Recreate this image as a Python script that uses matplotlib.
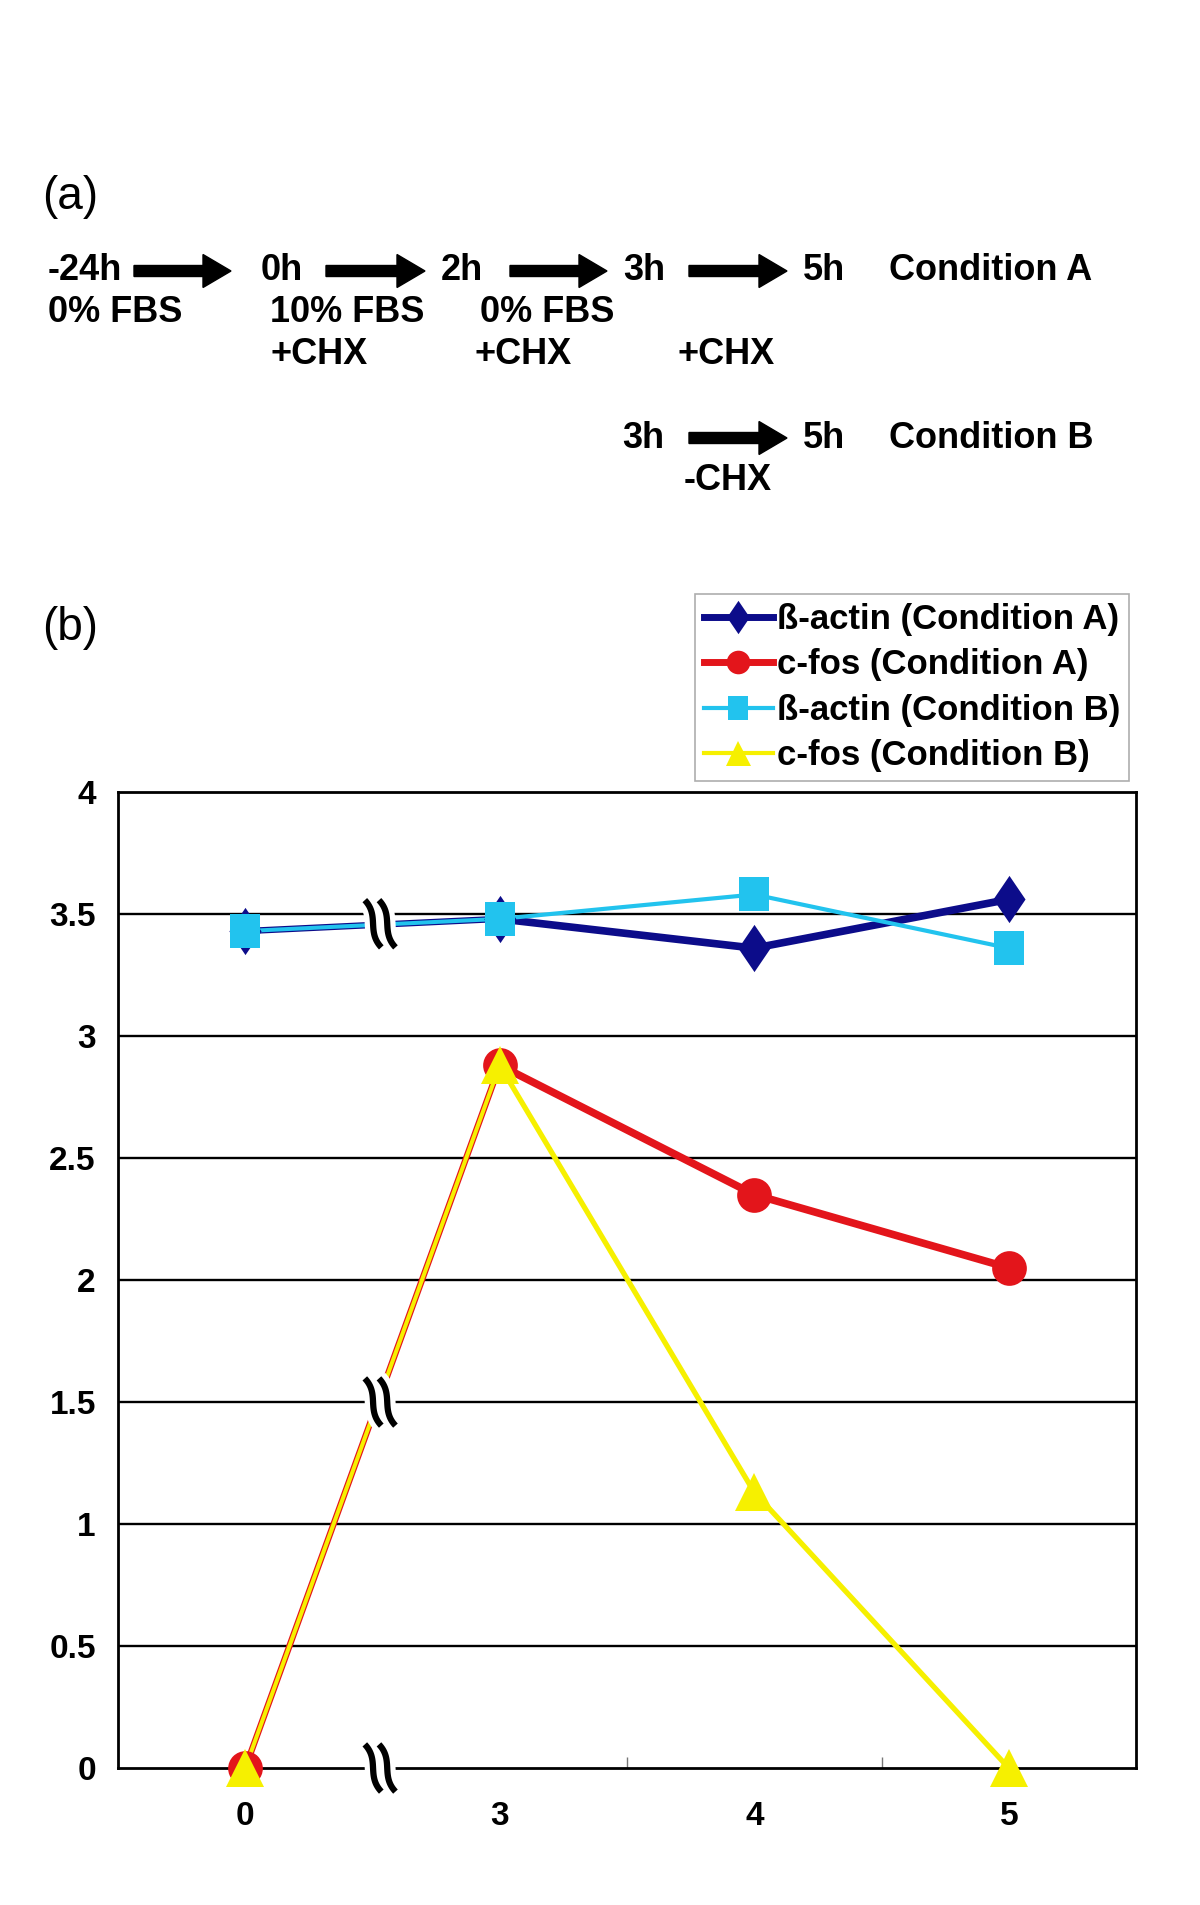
import numpy as np
import matplotlib
matplotlib.use("Agg")
import matplotlib.pyplot as plt
from matplotlib.path import Path
from matplotlib.lines import Line2D
from matplotlib.patches import FancyArrow
import matplotlib.patheffects as pe

# ---------------- data ----------------
categories = ["0", "3", "4", "5"]
actin_A = [3.43, 3.48, 3.36, 3.56]
fos_A = [0.0, 2.88, 2.35, 2.05]
actin_B = [3.43, 3.48, 3.58, 3.36]
fos_B = [0.0, 2.88, 1.13, 0.0]
labels = ["ß-actin (Condition A)", "c-fos (Condition A)",
          "ß-actin (Condition B)", "c-fos (Condition B)"]
yticks = [0, 0.5, 1, 1.5, 2, 2.5, 3, 3.5, 4]
ytick_labels = ["0", "0.5", "1", "1.5", "2", "2.5", "3", "3.5", "4"]
break_x = 0.53
break_y = [3.46, 1.5, 0.0]

# panel (a) protocol text: (text, x_px, y_px)
scheme_texts = [
    ("-24h", 48, 271), ("0h", 261, 271), ("2h", 441, 271), ("3h", 623, 271),
    ("5h", 803, 271), ("Condition A", 889, 271),
    ("0% FBS", 48, 313), ("10% FBS", 270, 313), ("0% FBS", 480, 313),
    ("+CHX", 270, 355), ("+CHX", 474, 355), ("+CHX", 678, 355),
    ("3h", 622, 438), ("5h", 803, 438), ("Condition B", 889, 438),
    ("-CHX", 684, 480),
]
scheme_arrows = [(134, 231, 271), (326, 425, 271), (510, 607, 271),
                 (689, 787, 271), (689, 787, 438)]

navy = "#0c0c8a"
red = "#e3151b"
cyan = "#22c3ee"
yellow = "#f6f000"

W, H = 1200, 1905
fig = plt.figure(figsize=(W / 100, H / 100), dpi=100)
fig.patch.set_facecolor("white")

bold_font = ["Liberation Sans", "DejaVu Sans"]
reg = ["Liberation Sans", "DejaVu Sans"]

def fx(px):
    return px / W

def fy(py):
    return 1 - py / H

# ---------------- panel (a) ----------------
fig.text(fx(42), fy(197), "(a)", family=reg, fontsize=33, va="center", ha="left")
for t, x, y in scheme_texts:
    fig.text(fx(x), fy(y), t, family=bold_font, fontweight="bold",
             fontsize=26, va="center", ha="left")
for x0, x1, y in scheme_arrows:
    fig.add_artist(FancyArrow(x0 / 100, (H - y) / 100, (x1 - x0) / 100, 0,
                              width=0.11, head_width=0.33, head_length=0.28,
                              length_includes_head=True, color="black",
                              transform=fig.dpi_scale_trans))

fig.text(fx(42), fy(628), "(b)", family=reg, fontsize=33, va="center", ha="left")

# ---------------- panel (b) ----------------
ax = fig.add_axes([fx(118), fy(1768), (1136 - 118) / W, (1768 - 792) / H])
xpos = np.arange(len(categories))
ax.set_xlim(-0.5, len(categories) - 0.5)
ax.set_ylim(0, 4)

for y in yticks[1:-1]:
    ax.axhline(y, color="black", lw=1.7, zorder=1)

diamond = Path([(0, 1), (0.68, 0), (0, -1), (-0.68, 0), (0, 1)],
               [Path.MOVETO, Path.LINETO, Path.LINETO, Path.LINETO, Path.CLOSEPOLY])
rect = Path([(-0.88, -1), (0.88, -1), (0.88, 1), (-0.88, 1), (-0.88, -1)],
            [Path.MOVETO, Path.LINETO, Path.LINETO, Path.LINETO, Path.CLOSEPOLY])

series = [
    (actin_A, navy, diamond, 34, 4.6, 5.5, 3),
    (fos_A, red, "o", 25, 4.6, 5.5, 3),
    (actin_B, cyan, rect, 24, 2.9, 3.0, 4),
    (fos_B, yellow, "^", 27, 2.9, 3.8, 4),
]
for vals, col, mk, ms, lw1, lw2, z in series:
    ax.plot(xpos[:2], vals[:2], color=col, lw=lw1, zorder=z, solid_capstyle="butt")
    ax.plot(xpos[1:], vals[1:], color=col, lw=lw2, zorder=z, solid_joinstyle="miter")
    ax.plot(xpos, vals, ls="none", marker=mk, ms=ms, color=col, mec=col,
            mew=0, zorder=z + 2, clip_on=False)

# axis break marks (two mirrored-integral-like strokes)
t = np.linspace(-1, 1, 50)
verts, codes = [], []
for off in (-0.3, 0.3):
    xs = off - 0.3 * t ** 3 - 0.05 * t
    for i, (a, b) in enumerate(zip(xs, t)):
        verts.append((a, b))
        codes.append(Path.MOVETO if i == 0 else Path.LINETO)
wave = Path(verts, codes)
ax.plot([break_x] * len(break_y), break_y, ls="none", marker=wave, ms=34,
        mec="black", mfc="none", mew=4.5, zorder=10, clip_on=False,
        path_effects=[pe.Stroke(linewidth=12, foreground="white"), pe.Normal()])

for s in ax.spines.values():
    s.set_color("black")
    s.set_linewidth(2)
    s.set_zorder(2)

ax.set_yticks(yticks)
ax.set_yticklabels(ytick_labels)
ax.set_xticks(xpos)
ax.set_xticklabels(categories)
ax.set_xticks([1.5, 2.5], minor=True)
ax.tick_params(axis="y", which="major", length=0, pad=16)
ax.tick_params(axis="x", which="major", length=0, pad=24)
ax.tick_params(axis="x", which="minor", direction="in", length=8, color="#777777", width=1)
for lab in ax.get_xticklabels() + ax.get_yticklabels():
    lab.set_family(bold_font)
    lab.set_fontweight("bold")
    lab.set_fontsize(24)

handles = [
    Line2D([], [], color=navy, lw=5, marker=diamond, ms=24, mew=0),
    Line2D([], [], color=red, lw=5, marker="o", ms=17, mew=0),
    Line2D([], [], color=cyan, lw=3, marker=rect, ms=17, mew=0),
    Line2D([], [], color=yellow, lw=3, marker="^", ms=18, mew=0),
]
leg = fig.legend(handles, labels, loc="upper left",
                 bbox_to_anchor=(fx(695), fy(594)), bbox_transform=fig.transFigure,
                 frameon=True, fancybox=False, edgecolor="#999999",
                 prop={"family": bold_font, "size": 25, "weight": "bold"},
                 handlelength=2.0, handletextpad=0.1, labelspacing=0.36,
                 borderpad=0.25, borderaxespad=0)
leg.get_frame().set_linewidth(1.2)

fig.savefig("out.png", dpi=100, facecolor="white")
